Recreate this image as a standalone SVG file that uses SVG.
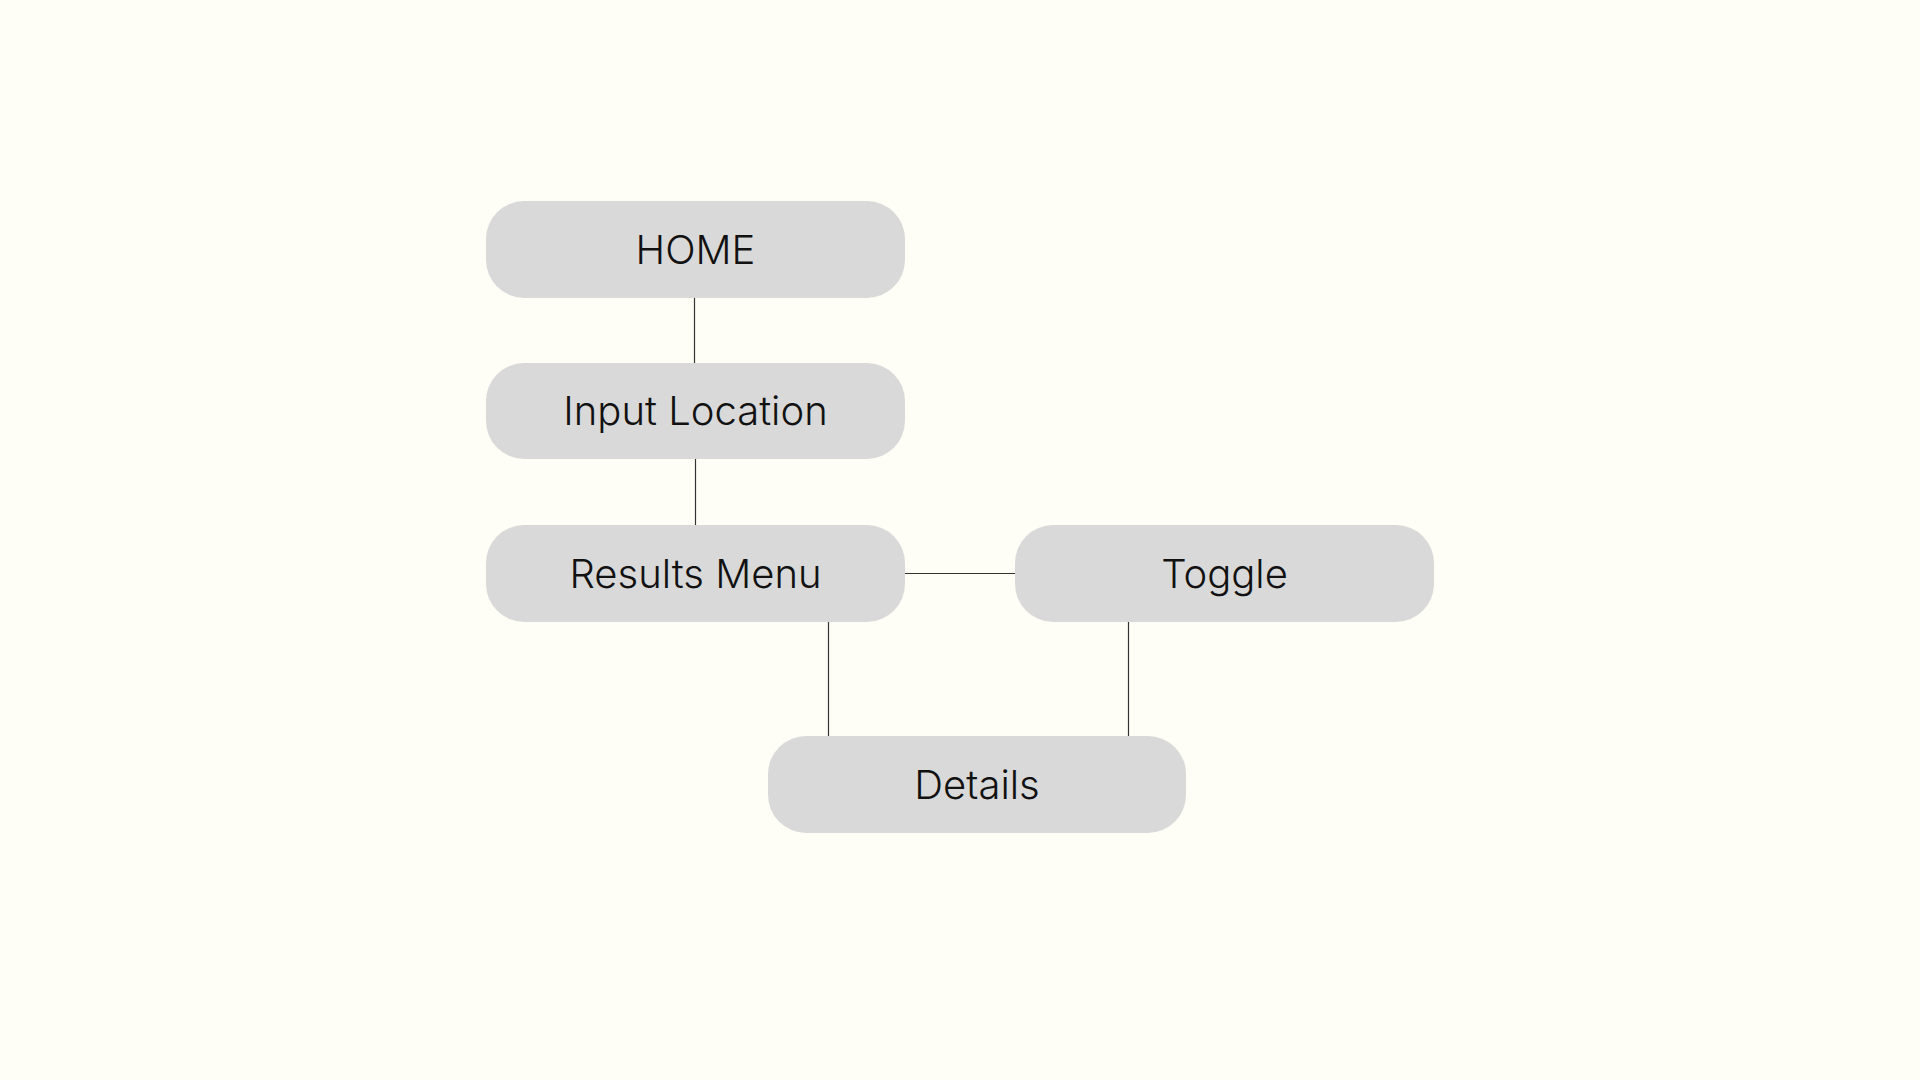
<svg xmlns="http://www.w3.org/2000/svg" width="1920" height="1080" viewBox="0 0 1920 1080">
<style>
.node rect{fill:#d9d9d9}
.node text{font-family:Inter,"Noto Sans","Liberation Sans",sans-serif;font-size:40px;font-weight:300;fill:#111;text-anchor:middle}
.conn line{stroke:#333;stroke-width:1.2}
</style>
<rect width="1920" height="1080" fill="#fefef7"/>
<g class="conn" id="connectors">
<line x1="694.5" y1="298" x2="694.5" y2="363"/>
<line x1="695.5" y1="459" x2="695.5" y2="525"/>
<line x1="905" y1="573.5" x2="1015" y2="573.5"/>
<line x1="828.5" y1="622" x2="828.5" y2="736"/>
<line x1="1128.5" y1="622" x2="1128.5" y2="736"/>
</g>
<g class="node" id="home"><rect x="486" y="201" width="419" height="97" rx="38"/><text x="695.5" y="264">HOME</text></g>
<g class="node" id="input-location"><rect x="486" y="363" width="419" height="96" rx="38"/><text x="695.5" y="425">Input Location</text></g>
<g class="node" id="results-menu"><rect x="486" y="525" width="419" height="97" rx="38"/><text x="695.5" y="588">Results Menu</text></g>
<g class="node" id="toggle"><rect x="1015" y="525" width="419" height="97" rx="38"/><text x="1224.5" y="588">Toggle</text></g>
<g class="node" id="details"><rect x="768" y="736" width="418" height="97" rx="38"/><text x="977" y="799">Details</text></g>
</svg>
